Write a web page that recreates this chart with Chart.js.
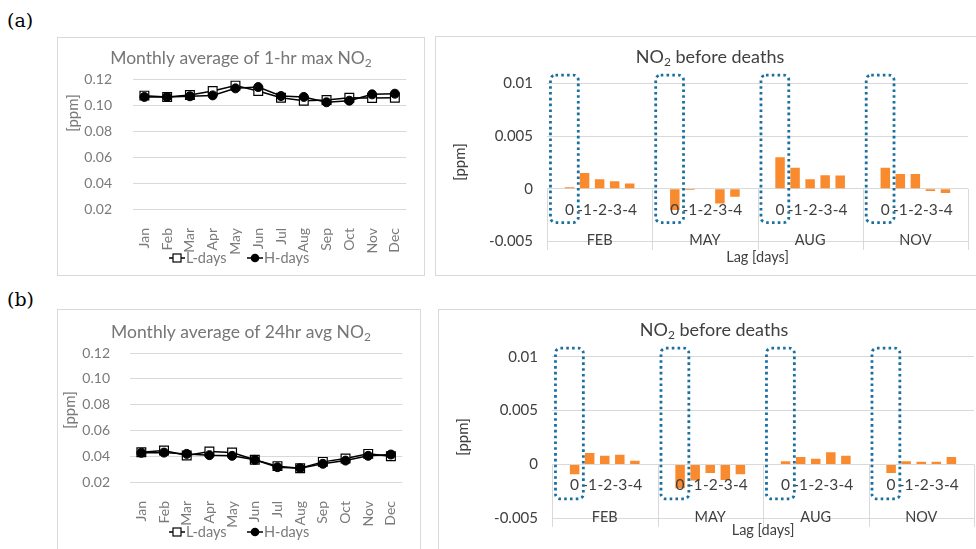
<!DOCTYPE html>
<html>
<head>
<meta charset="utf-8">
<script src="https://cdn.jsdelivr.net/npm/chart.js@4.4.1/dist/chart.umd.min.js"></script>
<style>
  body { margin: 0; width: 976px; height: 549px; overflow: hidden; background: #fff; position: relative; }
  .panel { position: absolute; border: 1px solid #d9d9d9; background: #fff; }
  .tag { position: absolute; font: 19px 'DejaVu Serif', serif; color: #000; }
  canvas { position: absolute; }
</style>
</head>
<body>
<div class="tag" style="left:7px;top:9px">(a)</div>
<div class="tag" style="left:7px;top:288px">(b)</div>

<div class="panel" style="left:57px;top:37px;width:366px;height:237px"></div>
<div class="panel" style="left:435px;top:36px;width:560px;height:238px"></div>
<div class="panel" style="left:57px;top:309px;width:362px;height:260px"></div>
<div class="panel" style="left:438px;top:309px;width:560px;height:260px"></div>

<canvas id="a-line" width="365" height="236" style="left:58px;top:38px"></canvas>
<canvas id="a-bar" width="540" height="237" style="left:436px;top:37px"></canvas>
<canvas id="b-line" width="361" height="239" style="left:58px;top:310px"></canvas>
<canvas id="b-bar" width="537" height="239" style="left:439px;top:310px"></canvas>

<script>
// --- datos ---
const months = ['Jan', 'Feb', 'Mar', 'Apr', 'May', 'Jun', 'Jul', 'Aug', 'Sep', 'Oct', 'Nov', 'Dec'];

// (a) promedio mensual del máximo horario de NO2
const lDays1hMax = [0.1072, 0.1062, 0.1077, 0.1108, 0.1149, 0.1108, 0.1056, 0.1033, 0.1038, 0.1056, 0.1054, 0.1056];
const hDays1hMax = [0.1062, 0.1062, 0.1067, 0.1074, 0.1128, 0.1138, 0.1069, 0.1062, 0.1021, 0.1033, 0.1082, 0.1087];

// (b) promedio mensual del promedio 24 h de NO2
const lDays24hAvg = [0.0431, 0.0444, 0.0405, 0.0436, 0.0428, 0.0372, 0.0323, 0.0307, 0.0356, 0.0382, 0.0418, 0.0400];
const hDays24hAvg = [0.0426, 0.0428, 0.0418, 0.0408, 0.0403, 0.0372, 0.0315, 0.0307, 0.0341, 0.0366, 0.0403, 0.0413];

const lineTickValues = [0.02, 0.04, 0.06, 0.08, 0.10, 0.12];
const lineTickLabels = ['0.02', '0.04', '0.06', '0.08', '0.10', '0.12'];

// NO2 antes de las muertes, por mes y rezago (filas: FEB, MAY, AUG, NOV; columnas: 0..-4)
const barMonths = ['FEB', 'MAY', 'AUG', 'NOV'];
const lagLabels = ['0', '-1', '-2', '-3', '-4'];
const before1hMax = [
    [0.00016, 0.0015, 0.0009, 0.00073, 0.0005],
    [-0.0020, -0.0001, -0.00003, -0.0014, -0.00076],
    [0.0030, 0.0020, 0.0009, 0.0013, 0.00127],
    [0.0020, 0.0014, 0.0014, -0.0002, -0.0004],
];
const before24hAvg = [
    [-0.0009, 0.00105, 0.0008, 0.0009, 0.00035],
    [-0.0022, -0.0015, -0.0008, -0.00145, -0.0009],
    [0.0003, 0.00068, 0.00052, 0.00114, 0.0008],
    [-0.0008, 0.0003, 0.00025, 0.00025, 0.00068],
];
const barTickValues = [-0.005, 0, 0.005, 0.01];
const barTickLabels = ['-0.005', '0', '0.005', '0.01'];
const lagBoxRange = [-0.0032, 0.0108];   // recuadro punteado alrededor del rezago 0

Chart.defaults.font.family = "Lato, 'Open Sans', sans-serif";

const GRID = '#d9d9d9';
const ORANGE = '#F98A2D';
const BOX_BLUE = '#1A6F9F';
const GRAY_TXT = '#7a7a7a';
const DARK_TXT = '#404040';

// texto con subíndice: parts = [[texto, esSub], ...]
function drawRich(ctx, parts, cx, cy, size, color) {
    const fonts = parts.map(p => p[1] ? `${Math.round(size * 0.66)}px Lato` : `${size}px Lato`);
    let total = 0;
    const widths = parts.map((p, i) => { ctx.font = fonts[i]; const w = ctx.measureText(p[0]).width; total += w; return w; });
    let x = cx - total / 2;
    ctx.fillStyle = color;
    ctx.textAlign = 'left';
    ctx.textBaseline = 'middle';
    parts.forEach((p, i) => {
        ctx.font = fonts[i];
        ctx.fillText(p[0], x, p[1] ? cy + size * 0.3 : cy);
        x += widths[i];
    });
}

function drawVertical(ctx, text, x, y, size, color) {
    ctx.save();
    ctx.translate(x, y);
    ctx.rotate(-Math.PI / 2);
    ctx.font = `${size}px Lato`;
    ctx.fillStyle = color;
    ctx.textAlign = 'center';
    ctx.textBaseline = 'middle';
    ctx.fillText(text, 0, 0);
    ctx.restore();
}

// título, eje y y leyenda de los gráficos de línea
const lineDecor = {
    id: 'lineDecor',
    afterDraw(chart, args, o) {
        const c = chart.ctx;
        c.save();
        drawRich(c, o.title, o.titleX, o.titleY, 17.5, '#767676');
        drawVertical(c, '[ppm]', o.yTitleX, o.yTitleY, 15, GRAY_TXT);

        // leyenda: -□- L-days  -●- H-days
        const y = o.legendY;
        const items = [
            { x: o.legendX[0], label: 'L-days', square: true },
            { x: o.legendX[1], label: 'H-days', square: false },
        ];
        items.forEach(it => {
            c.strokeStyle = '#000';
            c.lineWidth = 1.5;
            c.beginPath();
            c.moveTo(it.x, y);
            c.lineTo(it.x + 16, y);
            c.stroke();
            const mx = it.x + 8;
            if (it.square) {
                c.fillStyle = '#fff';
                c.lineWidth = 1.2;
                c.fillRect(mx - 4, y - 4, 8, 8);
                c.strokeRect(mx - 4, y - 4, 8, 8);
            } else {
                c.fillStyle = '#000';
                c.beginPath();
                c.arc(mx, y, 4.3, 0, Math.PI * 2);
                c.fill();
            }
            c.font = '14.5px Lato';
            c.fillStyle = GRAY_TXT;
            c.textAlign = 'left';
            c.textBaseline = 'middle';
            c.fillText(it.label, it.x + 17, y);
        });
        c.restore();
    },
};

function lineChart(id, lData, hData, geo) {
    return new Chart(document.getElementById(id), {
        type: 'line',
        data: {
            labels: months,
            datasets: [
                {
                    label: 'H-days', data: hData,
                    borderColor: '#000', borderWidth: 1.5, tension: 0,
                    pointStyle: 'circle', pointRadius: 4.5,
                    pointBackgroundColor: '#000', pointBorderColor: '#000', pointBorderWidth: 1,
                },
                {
                    label: 'L-days', data: lData,
                    borderColor: '#000', borderWidth: 1.5, tension: 0,
                    pointStyle: 'rect', pointRadius: 6.2,
                    pointBackgroundColor: '#fff', pointBorderColor: '#000', pointBorderWidth: 1.2,
                },
            ],
        },
        options: {
            responsive: false,
            animation: false,
            events: [],
            layout: { padding: { top: geo.top, right: geo.right, left: 0, bottom: 0 } },
            plugins: {
                legend: { display: false },
                tooltip: { enabled: false },
                lineDecor: geo.decor,
            },
            scales: {
                x: {
                    offset: true,
                    grid: { display: false },
                    border: { display: false },
                    ticks: {
                        minRotation: 90, maxRotation: 90, autoSkip: false,
                        padding: 11, color: GRAY_TXT, font: { size: 14 },
                    },
                    afterFit: s => { s.height = geo.xh; },
                },
                y: {
                    min: 0.02, max: 0.12,
                    grid: { color: GRID, drawTicks: false },
                    border: { display: false },
                    afterBuildTicks: s => { s.ticks = lineTickValues.map(v => ({ value: v })); },
                    ticks: {
                        padding: geo.tickPad, color: GRAY_TXT, font: { size: 14 },
                        callback: (v, i) => lineTickLabels[i],
                    },
                    afterFit: s => { s.width = geo.yw; },
                },
            },
        },
        plugins: [lineDecor],
    });
}

// 7 ranuras por mes: vacía, 0..-4, vacía
function slotLabels() {
    const out = [];
    barMonths.forEach(() => { out.push(''); lagLabels.forEach(l => out.push(l)); out.push(''); });
    return out;
}
function slotValues(rows) {
    const out = [];
    rows.forEach(r => { out.push(null); r.forEach(v => out.push(v)); out.push(null); });
    return out;
}

// eje de categorías en dos niveles + recuadros punteados
const lagAxis = {
    id: 'lagAxis',
    afterDraw(chart, args, o) {
        const c = chart.ctx;
        const { left, right, bottom } = chart.chartArea;
        const xs = chart.scales.x, ys = chart.scales.y;
        const y0 = ys.getPixelForValue(0);
        c.save();

        // separadores de grupo
        c.strokeStyle = GRID;
        c.lineWidth = 1;
        for (let g = 0; g <= barMonths.length; g++) {
            const x = Math.round(xs.getPixelForValue(g * 7 - 0.5)) + 0.5;
            c.beginPath();
            c.moveTo(x, y0);
            c.lineTo(x, bottom + o.sepExtra);
            c.stroke();
        }

        c.fillStyle = DARK_TXT;
        c.textAlign = 'center';
        c.textBaseline = 'middle';
        barMonths.forEach((m, g) => {
            c.font = '15.5px Lato';
            lagLabels.forEach((l, i) => {
                c.fillText(l, xs.getPixelForValue(g * 7 + 1 + i), y0 + 21);
            });
            c.font = '14.5px Lato';
            c.fillText(m, xs.getPixelForValue(g * 7 + 3), bottom - 1);
        });
        c.font = '14.5px Lato';
        c.fillText('Lag [days]', (left + right) / 2, bottom + o.lagTitleGap);

        // recuadros punteados
        c.strokeStyle = BOX_BLUE;
        c.lineWidth = 2.8;
        c.setLineDash([2.6, 3.2]);
        barMonths.forEach((m, g) => {
            const x1 = xs.getPixelForValue(g * 7 - 0.27);
            const x2 = xs.getPixelForValue(g * 7 + 1.58);
            const yt = ys.getPixelForValue(lagBoxRange[1]);
            const yb = ys.getPixelForValue(lagBoxRange[0]);
            c.beginPath();
            c.roundRect(x1, yt, x2 - x1, yb - yt, 5);
            c.stroke();
        });
        c.setLineDash([]);

        drawRich(c, [['NO', false], ['2', true], [' before deaths', false]], o.titleX, o.titleY, 18, DARK_TXT);
        drawVertical(c, '[ppm]', o.yTitleX, o.yTitleY, 15, DARK_TXT);
        c.restore();
    },
};

function barChart(id, rows, geo) {
    return new Chart(document.getElementById(id), {
        type: 'bar',
        data: {
            labels: slotLabels(),
            datasets: [{
                data: slotValues(rows),
                backgroundColor: ORANGE,
                borderWidth: 0,
                categoryPercentage: 1,
                barPercentage: 0.63,
            }],
        },
        options: {
            responsive: false,
            animation: false,
            events: [],
            layout: { padding: { top: geo.top, right: geo.right, left: 0, bottom: geo.bottom } },
            plugins: {
                legend: { display: false },
                tooltip: { enabled: false },
                lagAxis: geo.decor,
            },
            scales: {
                x: { display: false },
                y: {
                    min: -0.005, max: 0.01,
                    grid: { color: GRID, drawTicks: false },
                    border: { display: false },
                    afterBuildTicks: s => { s.ticks = barTickValues.map(v => ({ value: v })); },
                    ticks: {
                        padding: geo.tickPad, color: DARK_TXT, font: { size: 15 },
                        callback: (v, i) => barTickLabels[i],
                    },
                    afterFit: s => { s.width = geo.yw; },
                },
            },
        },
        plugins: [lagAxis],
    });
}

lineChart('a-line', lDays1hMax, hDays1hMax, {
    top: 41, right: 8, xh: 65, yw: 75, tickPad: 21,
    decor: {
        title: [['Monthly average of 1-hr max NO', false], ['2', true]],
        titleX: 183, titleY: 20, yTitleX: 15, yTitleY: 75,
        legendX: [111, 189], legendY: 220,
    },
});

lineChart('b-line', lDays24hAvg, hDays24hAvg, {
    top: 43, right: 2, xh: 67, yw: 72, tickPad: 20,
    decor: {
        title: [['Monthly average of 24hr avg NO', false], ['2', true]],
        titleX: 183, titleY: 22, yTitleX: 12, yTitleY: 100,
        legendX: [111, 189], legendY: 222,
    },
});

barChart('a-bar', before1hMax, {
    top: 46.5, right: 8, bottom: 32.5, yw: 111, tickPad: 14,
    decor: { titleX: 274, titleY: 20, yTitleX: 24, yTitleY: 125, sepExtra: 8.5, lagTitleGap: 15.5 },
});

barChart('b-bar', before24hAvg, {
    top: 46.7, right: 2, bottom: 30.7, yw: 113, tickPad: 14,
    decor: { titleX: 275, titleY: 20, yTitleX: 24, yTitleY: 127, sepExtra: 8.5, lagTitleGap: 12 },
});
</script>
</body>
</html>
